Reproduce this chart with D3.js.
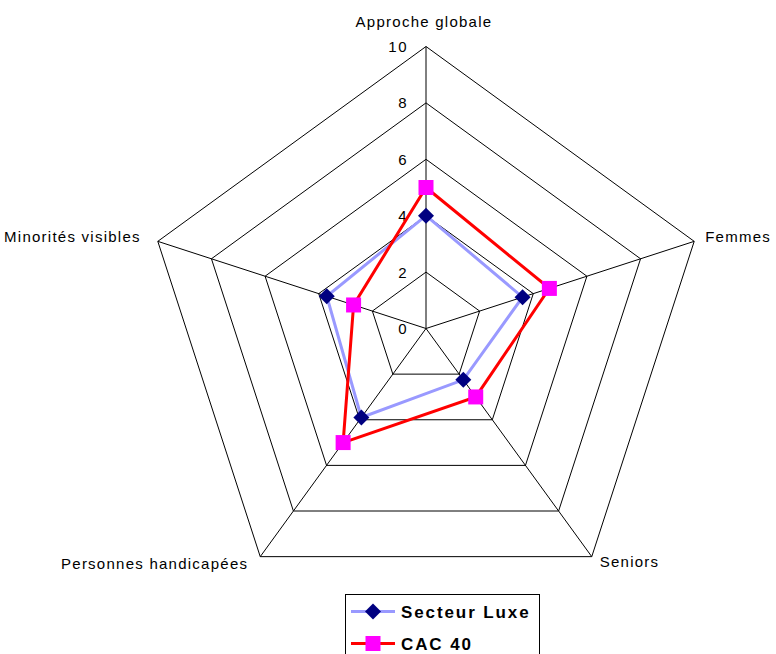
<!DOCTYPE html>
<html>
<head>
<meta charset="utf-8">
<script src="https://cdn.jsdelivr.net/npm/d3@7"></script>
<style>
  html, body { margin: 0; padding: 0; background: #fff; }
  svg { display: block; }
  text { font-family: "Liberation Sans", Arial, sans-serif; }
</style>
</head>
<body>
<svg id="chart" width="776" height="654"></svg>
<script>
const categories = ["Approche globale", "Femmes", "Seniors", "Personnes handicapées", "Minorités visibles"];
const luxeValues = [4, 3.6, 2.25, 3.9, 3.7];
const cacValues = [5, 4.6, 3, 5, 2.7];
const tickValues = [0, 2, 4, 6, 8, 10];
const seriesNames = ["Secteur Luxe", "CAC 40"];

const svg = d3.select("#chart");
const cx = 426, cy = 328.5, R = 282;
const r = d3.scaleLinear().domain([0, 10]).range([0, R]);
const n = categories.length;
const angle = d3.scaleLinear().domain([0, n]).range([0, 2 * Math.PI]);
const pt = (i, v) => [cx + r(v) * Math.sin(angle(i)), cy - r(v) * Math.cos(angle(i))];

const g = svg.append("g");

// grid pentagons
tickValues.filter(t => t > 0).forEach(t => {
  g.append("polygon")
    .attr("points", d3.range(n).map(i => pt(i, t).join(",")).join(" "))
    .attr("fill", "none").attr("stroke", "#000").attr("stroke-width", 1);
});
// spokes
d3.range(n).forEach(i => {
  const p = pt(i, 10);
  g.append("line").attr("x1", cx).attr("y1", cy).attr("x2", p[0]).attr("y2", p[1])
    .attr("stroke", "#000").attr("stroke-width", 1);
});

// tick labels
g.selectAll(".tick").data(tickValues).enter().append("text")
  .attr("x", cx - 18).attr("y", d => cy - r(d))
  .attr("dy", "0.36em")
  .attr("text-anchor", "end")
  .attr("font-size", 15).attr("letter-spacing", 1.5)
  .attr("fill", "#000")
  .text(d => d);

// axis labels
const labelOffsets = [
  { dx: -2, dy: -20, anchor: "middle" },
  { dx: 11, dy: 1, anchor: "start" },
  { dx: 8, dy: 10, anchor: "start" },
  { dx: -12, dy: 12, anchor: "end" },
  { dx: -17, dy: 1, anchor: "end" }
];
categories.forEach((c, i) => {
  const p = pt(i, 10);
  const o = labelOffsets[i];
  g.append("text").attr("x", p[0] + o.dx).attr("y", p[1] + o.dy)
    .attr("text-anchor", o.anchor)
    .attr("font-size", 15).attr("letter-spacing", 1.25)
    .attr("fill", "#000").text(c);
});

const line = d3.line().curve(d3.curveLinearClosed);

function drawSeries(vals, color, marker, markerColor) {
  const pts = vals.map((v, i) => pt(i, v));
  g.append("path").attr("d", line(pts)).attr("fill", "none")
    .attr("stroke", color).attr("stroke-width", 3).attr("stroke-linejoin", "miter");
  pts.forEach(p => drawMarker(g, p[0], p[1], marker, markerColor));
}
function drawMarker(sel, x, y, marker, color) {
  if (marker === "diamond") {
    const s = 8;
    sel.append("polygon").attr("points", [[x, y - s], [x + s, y], [x, y + s], [x - s, y]].map(q => q.join(",")).join(" "))
      .attr("fill", color);
  } else {
    const s = 7.5;
    sel.append("rect").attr("x", x - s).attr("y", y - s).attr("width", 2 * s).attr("height", 2 * s)
      .attr("fill", color);
  }
}

drawSeries(luxeValues, "#9999ff", "diamond", "#000080");
drawSeries(cacValues, "#ff0000", "square", "#ff00ff");

// legend
const lg = svg.append("g");
lg.append("rect").attr("x", 345.5).attr("y", 594.5).attr("width", 194).attr("height", 70)
  .attr("fill", "#fff").attr("stroke", "#000").attr("stroke-width", 1);
const legendItems = [
  { name: seriesNames[0], color: "#9999ff", marker: "diamond", mc: "#000080", y: 611.5 },
  { name: seriesNames[1], color: "#ff0000", marker: "square", mc: "#ff00ff", y: 643.5 }
];
legendItems.forEach(it => {
  lg.append("line").attr("x1", 351).attr("x2", 395).attr("y1", it.y).attr("y2", it.y)
    .attr("stroke", it.color).attr("stroke-width", 3);
  drawMarker(lg, 373, it.y, it.marker, it.mc);
  lg.append("text").attr("x", 401).attr("y", it.y).attr("dy", "0.36em")
    .attr("font-size", 17).attr("font-weight", "bold").attr("letter-spacing", 1.9)
    .attr("fill", "#000").text(it.name);
});
</script>
</body>
</html>
